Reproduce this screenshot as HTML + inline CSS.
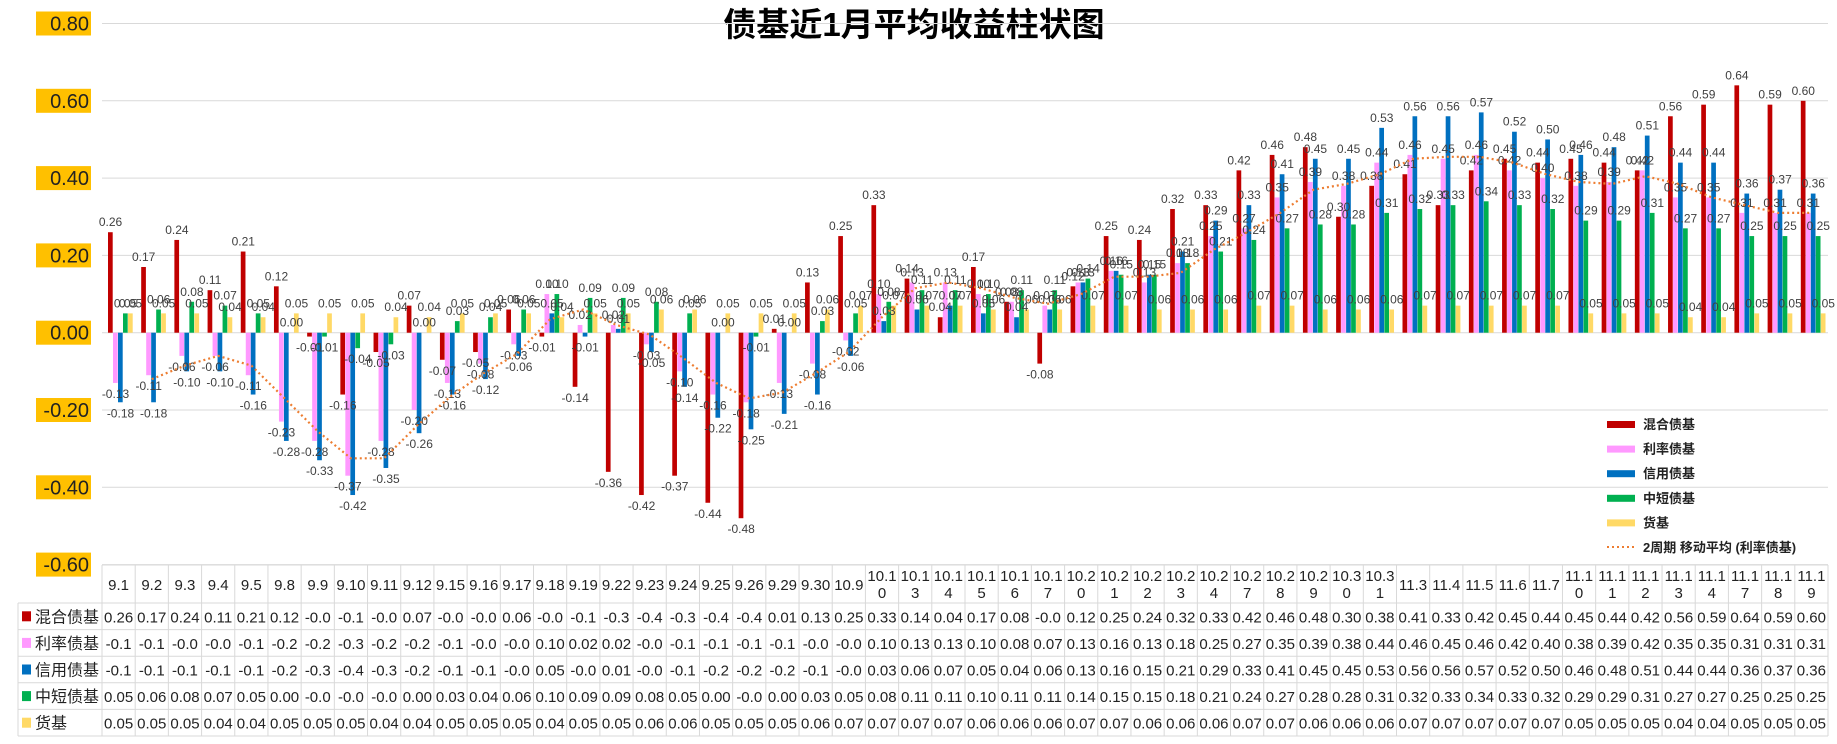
<!DOCTYPE html>
<html><head><meta charset="utf-8">
<style>
html,body{margin:0;padding:0;background:#fff;}
svg{display:block;font-family:"Liberation Sans","Noto Sans CJK SC",sans-serif;}
</style></head>
<body>
<svg id="chart" width="1837" height="744" viewBox="0 0 1837 744" xmlns="http://www.w3.org/2000/svg">
<text x="914" y="36" text-anchor="middle" font-size="33" font-weight="bold" fill="#000" font-family="Liberation Sans,Noto Sans CJK SC,sans-serif">债基近1月平均收益柱状图</text>
<g id="grid"></g><g id="bars"></g><g id="labels"></g><g id="line"></g><g id="yaxis"></g><g id="table"></g><g id="legend"></g>
</svg>
<script>
const categories=["9.1","9.2","9.3","9.4","9.5","9.8","9.9","9.10","9.11","9.12","9.15","9.16","9.17","9.18","9.19","9.22","9.23","9.24","9.25","9.26","9.29","9.30","10.9","10.10","10.13","10.14","10.15","10.16","10.17","10.20","10.21","10.22","10.23","10.24","10.27","10.28","10.29","10.30","10.31","11.3","11.4","11.5","11.6","11.7","11.10","11.11","11.12","11.13","11.14","11.17","11.18","11.19"];
const seriesNames=["混合债基","利率债基","信用债基","中短债基","货基"];
const hunhe=[0.26,0.17,0.24,0.11,0.21,0.12,-0.01,-0.16,-0.05,0.07,-0.07,-0.05,0.06,-0.01,-0.14,-0.36,-0.42,-0.37,-0.44,-0.48,0.01,0.13,0.25,0.33,0.14,0.04,0.17,0.08,-0.08,0.12,0.25,0.24,0.32,0.33,0.42,0.46,0.48,0.30,0.38,0.41,0.33,0.42,0.45,0.44,0.45,0.44,0.42,0.56,0.59,0.64,0.59,0.60];
const lilv=[-0.13,-0.11,-0.06,-0.06,-0.11,-0.23,-0.28,-0.37,-0.28,-0.20,-0.13,-0.08,-0.03,0.10,0.02,0.02,-0.03,-0.10,-0.16,-0.18,-0.13,-0.08,-0.02,0.10,0.13,0.13,0.10,0.08,0.07,0.13,0.16,0.13,0.18,0.25,0.27,0.35,0.39,0.38,0.44,0.46,0.45,0.46,0.42,0.40,0.38,0.39,0.42,0.35,0.35,0.31,0.31,0.31];
const xinyong=[-0.18,-0.18,-0.10,-0.10,-0.16,-0.28,-0.33,-0.42,-0.35,-0.26,-0.16,-0.12,-0.06,0.05,-0.01,0.01,-0.05,-0.14,-0.22,-0.25,-0.21,-0.16,-0.06,0.03,0.06,0.07,0.05,0.04,0.06,0.13,0.16,0.15,0.21,0.29,0.33,0.41,0.45,0.45,0.53,0.56,0.56,0.57,0.52,0.50,0.46,0.48,0.51,0.44,0.44,0.36,0.37,0.36];
const zhongduan=[0.05,0.06,0.08,0.07,0.05,0.00,-0.01,-0.04,-0.03,0.00,0.03,0.04,0.06,0.10,0.09,0.09,0.08,0.05,0.00,-0.01,0.00,0.03,0.05,0.08,0.11,0.11,0.10,0.11,0.11,0.14,0.15,0.15,0.18,0.21,0.24,0.27,0.28,0.28,0.31,0.32,0.33,0.34,0.33,0.32,0.29,0.29,0.31,0.27,0.27,0.25,0.25,0.25];
const huoji=[0.05,0.05,0.05,0.04,0.04,0.05,0.05,0.05,0.04,0.04,0.05,0.05,0.05,0.04,0.05,0.05,0.06,0.06,0.05,0.05,0.05,0.06,0.07,0.07,0.07,0.07,0.06,0.06,0.06,0.07,0.07,0.06,0.06,0.06,0.07,0.07,0.06,0.06,0.06,0.07,0.07,0.07,0.07,0.07,0.05,0.05,0.05,0.04,0.04,0.05,0.05,0.05];
const yTicks=[0.8,0.6,0.4,0.2,0,-0.2,-0.4,-0.6];

const NS="http://www.w3.org/2000/svg";
const series=[hunhe,lilv,xinyong,zhongduan,huoji];
const colors=["#C00000","#FF99FF","#0070C0","#00B050","#FFD966"];
const X0=102,X1=1828,Y0=332.7,PX=386.5; // px per unit
const cw=(X1-X0)/categories.length;
const y=v=>Y0-v*PX;
const xc=i=>X0+i*cw;
function mk(tag,attrs,parent){const e=document.createElementNS(NS,tag);for(const k in attrs)e.setAttribute(k,attrs[k]);parent.appendChild(e);return e;}
const G=id=>document.getElementById(id);

yTicks.forEach(t=>{
  const l=mk('line',{x1:X0,x2:X1,y1:y(t),y2:y(t),stroke:'#d9d9d9','stroke-width':1},G('grid'));
  
  
  const r=mk('rect',{x:36,y:y(t)-12,width:55,height:24,fill:'#FFC000'},G('yaxis'));
  
  
  const tx=mk('text',{x:89,y:y(t)+7,'text-anchor':'end','font-size':20,fill:'#222'},G('yaxis'));
  tx.textContent=t.toFixed(2);
  
  
});

const bw=5;
series.forEach((s,si)=>{
  s.forEach((v,i)=>{
    const bx=xc(i)+6+si*bw;
    const r=mk('rect',{x:bx,y:Math.min(y(v),Y0),width:bw-0.3,height:Math.abs(y(v)-Y0),fill:colors[si]},G('bars'));
    
    
    const t=mk('text',{x:bx+bw/2,y:v>=0?y(v)-6:y(v)+15,'text-anchor':'middle','font-size':12,fill:'#404040'},G('labels'));
    t.textContent=v.toFixed(2);
    
    
  });
});

// moving average line (2 period, 利率债基)
let pts=[];
for(let i=1;i<lilv.length;i++){pts.push((xc(i)+cw/2).toFixed(1)+','+y((lilv[i]+lilv[i-1])/2).toFixed(1));}
const pl=mk('polyline',{points:pts.join(' '),fill:'none',stroke:'#ED7D31','stroke-width':2.2,'stroke-dasharray':'2 3'},G('line'));



// table
const T0=565,HR=38,RH=26.6;
const tb=G('table');
mk('line',{x1:X0,x2:X1,y1:T0,y2:T0,stroke:'#d9d9d9'},tb);
mk('line',{x1:18,x2:X1,y1:T0+HR,y2:T0+HR,stroke:'#d9d9d9'},tb);
for(let r=1;r<=5;r++)mk('line',{x1:18,x2:X1,y1:T0+HR+r*RH,y2:T0+HR+r*RH,stroke:'#d9d9d9'},tb);
mk('line',{x1:18,x2:18,y1:T0+HR,y2:T0+HR+5*RH,stroke:'#d9d9d9'},tb);
for(let i=0;i<=categories.length;i++)mk('line',{x1:xc(i),x2:xc(i),y1:T0,y2:T0+HR+5*RH,stroke:'#d9d9d9'},tb);
categories.forEach((c,i)=>{
  const lines=c.length>4?[c.slice(0,4),c.slice(4)]:[c];
  lines.forEach((ln,k)=>{
    const t=mk('text',{x:xc(i)+cw/2,y:lines.length>1?T0+16+k*17:T0+25,'text-anchor':'middle','font-size':15,fill:'#222'},tb);
    t.textContent=ln;
    
    
  });
});
series.forEach((s,si)=>{
  const ry=T0+HR+si*RH;
  mk('rect',{x:22,y:ry+RH/2-5,width:9,height:10,fill:colors[si]},tb);
  const n=mk('text',{x:35,y:ry+RH/2+6,'font-size':16,fill:'#222'},tb);
  n.textContent=seriesNames[si];
  
  
  s.forEach((v,i)=>{
    const t=mk('text',{x:xc(i)+cw/2,y:ry+RH/2+6,'text-anchor':'middle','font-size':15,fill:'#222'},tb);
    t.textContent=v.toFixed(2).slice(0,4);
    
    
  });
});

// legend
const lg=G('legend');
const legNames=seriesNames.concat(["2周期 移动平均 (利率债基)"]);
legNames.forEach((nm,k)=>{
  const ly=424+k*24.6;
  if(k<5){const r=mk('rect',{x:1607,y:ly-3,width:28,height:7,fill:colors[k]},lg);
    
    }
  else{const l=mk('line',{x1:1607,x2:1635,y1:ly,y2:ly,stroke:'#ED7D31','stroke-width':2,'stroke-dasharray':'2 3'},lg);
    
    }
  const t=mk('text',{x:1643,y:ly+5,'font-size':13,'font-weight':'bold',fill:'#222'},lg);
  t.textContent=nm;
  
  
});
</script>
</body></html>
